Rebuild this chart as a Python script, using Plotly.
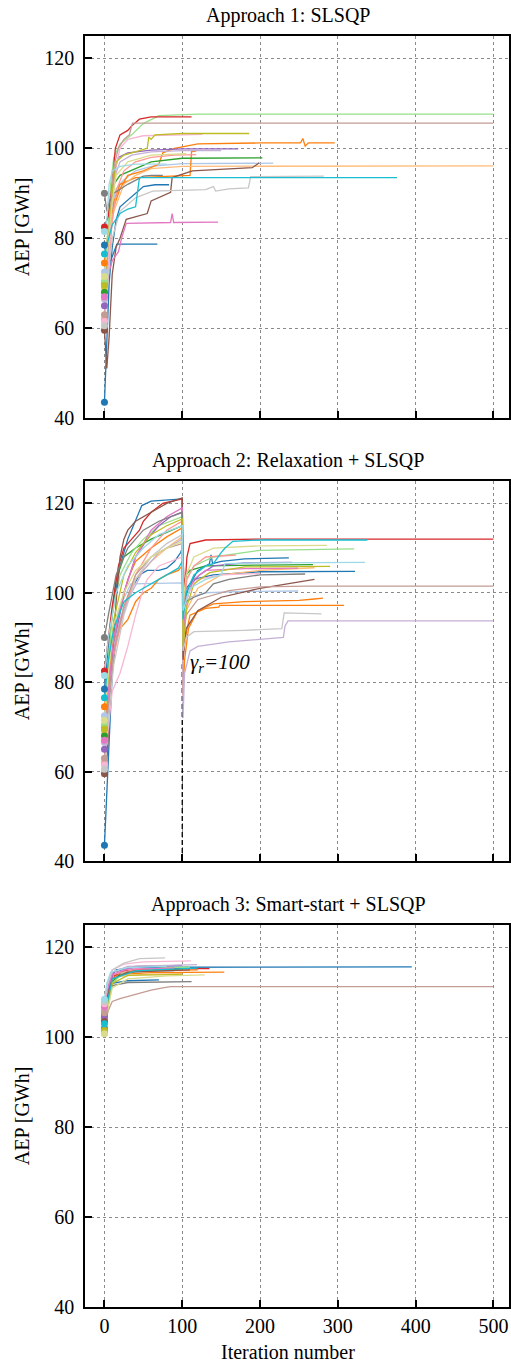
import plotly.graph_objects as go

# ---------------- data ----------------
RUN_NAMES = ["blue", "blue2", "lightblue", "orange", "orange2", "lightorange", "green", "lightgreen",
             "red", "lightred", "purple", "lightpurple", "brown", "lightbrown", "pink", "lightpink",
             "gray", "lightgray", "olive", "lightolive", "cyan", "lightcyan"]

X_TICKS = [0, 100, 200, 300, 400, 500]
Y_TICKS = [40, 60, 80, 100, 120]
TITLES = ["Approach 1: SLSQP", "Approach 2: Relaxation + SLSQP", "Approach 3: Smart-start + SLSQP"]
RELAX_ITER = 100

# Approach 1: SLSQP
A1_ITER = [
    [0, 3, 6, 10, 15, 20, 30, 40, 50, 65, 83],
    [0, 4, 8, 12, 16, 68],
    [0, 4, 8, 15, 25, 40, 60, 100, 217],
    [0, 5, 10, 20, 30, 50, 70, 75, 90, 120, 200, 252, 255, 258, 262, 296],
    [0, 5, 12, 20, 40, 110, 112, 118],
    [0, 5, 12, 25, 40, 60, 100, 500],
    [0, 4, 8, 12, 20, 40, 60, 100, 203],
    [0, 4, 8, 12, 20, 35, 50, 70, 120, 500],
    [0, 5, 10, 14, 20, 30, 35, 45, 60, 112],
    [0, 5, 10, 16, 25, 40, 60, 90, 118],
    [0, 4, 8, 13, 18, 30, 60, 100, 172],
    [0, 4, 9, 14, 20, 35, 60, 100, 150],
    [0, 3, 6, 10, 15, 20, 28, 55, 60, 85, 87, 113, 190, 199],
    [0, 4, 8, 12, 18, 25, 32, 36, 100, 500],
    [0, 5, 10, 18, 22, 28, 85, 87, 89, 146],
    [0, 5, 10, 15, 20, 30, 50, 126],
    [0, 3, 6, 12, 30, 50, 60, 75],
    [0, 5, 10, 20, 40, 62, 130, 140, 143, 160, 185, 188, 282],
    [0, 5, 10, 15, 25, 45, 55, 57, 60, 65, 100, 186],
    [0, 5, 10, 15, 30, 60, 105],
    [0, 5, 10, 20, 30, 40, 45, 100, 376],
    [0, 3, 6, 10, 20, 40, 80],
]
A1_AEP = [
    [43.5, 56, 70, 78, 84, 87, 88.5, 90, 91.5, 91.9, 91.9],
    [78.5, 74, 75, 77, 78.7, 78.7],
    [72.5, 80, 86, 91, 93, 95, 96, 96.6, 96.7],
    [74.5, 82, 86, 91, 94, 95, 96.5, 99, 100, 101, 101.2, 101.2, 102.2, 100.5, 101.2, 101.2],
    [70, 80, 88, 92, 93.5, 94, 99.3, 99.4],
    [69, 78, 86, 92, 94, 95.5, 96, 96.1],
    [68, 76, 85, 92, 94, 95.5, 97, 97.8, 97.9],
    [70.5, 82, 92, 98, 101, 103, 105.5, 107.3, 107.6, 107.6],
    [82.5, 85, 92, 100, 103, 104, 105, 106.5, 107, 107],
    [62, 72, 84, 91, 95, 97, 98, 98.5, 98.6],
    [65, 74, 86, 95, 98, 99, 99.6, 99.9, 99.9],
    [66.5, 76, 88, 94, 97, 98.5, 99.2, 99.5, 99.5],
    [59.5, 51, 58, 72, 78, 80, 84.2, 85.5, 88.3, 90.2, 93.5, 95, 95.7, 96.8],
    [63, 75, 88, 96, 100, 102, 103, 105.6, 105.6, 105.6],
    [67, 72, 75, 77, 80, 83.3, 83.5, 85.5, 83.5, 83.6],
    [61.5, 74, 88, 96, 100, 102, 102.8, 103.1],
    [90, 86, 88, 90, 92, 93.8, 94, 94],
    [60.5, 72, 80, 86, 89, 90.5, 90.8, 91.5, 90.5, 91, 91.2, 93.7, 93.8],
    [69.5, 80, 90, 97, 98.5, 99.5, 100, 102.5, 102, 103, 103.3, 103.3],
    [71.5, 80, 88, 94, 97, 98.5, 98.8],
    [76.5, 80, 83, 85.5, 86.5, 87, 93.5, 93.5, 93.5],
    [81.5, 84, 92, 95, 96, 96.5, 96.5],
]

# Approach 2: Relaxation + SLSQP
A2_ITER = [
    [0, 3, 6, 10, 15, 25, 35, 45, 55, 70, 80, 90, 98, 100, 101, 104, 110, 120, 135, 137, 139, 150, 180, 237],
    [0, 5, 12, 20, 30, 40, 48, 60, 80, 100, 101, 105, 115, 140, 200, 322],
    [0, 5, 10, 20, 34, 100, 101, 110, 130, 180, 249],
    [0, 5, 12, 20, 30, 40, 50, 60, 70, 80, 95, 100, 101, 104, 110, 130, 147, 148, 200, 308],
    [0, 5, 10, 20, 30, 40, 60, 80, 100, 101, 103, 108, 120, 140, 180, 250, 270, 281],
    [0, 5, 12, 25, 40, 60, 80, 100, 101, 105, 120, 150, 200, 270],
    [0, 4, 8, 15, 25, 40, 60, 80, 100, 101, 105, 110, 130, 200, 268],
    [0, 5, 10, 20, 35, 50, 70, 100, 101, 105, 115, 140, 200, 321],
    [0, 5, 10, 18, 25, 35, 45, 50, 60, 75, 100, 101, 103, 106, 110, 130, 200, 500],
    [0, 5, 12, 25, 40, 60, 80, 100, 101, 106, 115, 130, 169],
    [0, 5, 12, 25, 40, 55, 70, 85, 100, 101, 105, 112, 122, 140, 180, 241],
    [0, 5, 12, 20, 35, 50, 70, 100, 101, 103, 110, 120, 160, 200, 230, 232, 236, 500],
    [0, 3, 6, 10, 15, 20, 25, 30, 40, 60, 80, 100, 101, 105, 120, 150, 200, 270],
    [0, 5, 12, 25, 40, 60, 80, 100, 101, 105, 120, 160, 200, 260, 500],
    [0, 5, 12, 25, 40, 60, 80, 100, 101, 106, 115, 130, 180, 249],
    [0, 5, 10, 20, 30, 40, 50, 55, 70, 100, 101, 108, 120, 150, 200],
    [0, 5, 15, 30, 50, 70, 100, 101, 105, 115, 130, 140, 160, 200, 258],
    [0, 5, 12, 25, 40, 60, 80, 100, 101, 105, 115, 180, 228, 231, 279],
    [0, 5, 12, 25, 40, 60, 80, 100, 101, 106, 115, 135, 180, 290],
    [0, 5, 12, 25, 40, 60, 80, 100, 101, 105, 115, 140, 200, 286],
    [0, 5, 12, 25, 40, 60, 80, 95, 100, 101, 105, 115, 130, 140, 150, 155, 165, 200, 338],
    [0, 5, 15, 30, 50, 70, 100, 101, 110, 130, 150, 155, 200, 335],
]
A2_AEP = [
    [43.5, 55, 70, 82, 90, 96, 101, 104, 105, 105, 105.5, 107, 109, 110, 90, 99, 102, 105, 106.5, 108.5, 106.5, 107, 107.6, 107.8],
    [78.5, 88, 98, 106, 112, 116, 119.5, 120.5, 120.8, 121, 96, 101, 103, 104, 104.7, 104.8],
    [72.5, 82, 90, 97, 102, 102.2, 97, 99, 100, 100.3, 100.4],
    [74.5, 82, 88, 92, 94, 98, 100, 101, 103, 104, 105, 106, 86, 90, 95, 96.5, 96.8, 97.2, 97.2, 97.2],
    [70, 80, 88, 96, 103, 107, 110, 112.5, 114.5, 77, 85, 92, 96, 97.5, 98, 98.3, 98.6, 98.8],
    [69, 78, 88, 97, 103, 107, 110, 112.5, 88, 96, 101, 104, 105, 105.6],
    [68, 80, 92, 103, 108, 110, 112, 113.5, 115, 100, 104, 105, 106, 106.2, 106.3],
    [70.5, 85, 95, 104, 109, 112, 115, 117, 95, 103, 106, 108, 109.5, 109.8],
    [82.5, 90, 97, 106, 110, 112, 114, 116, 118, 120, 121, 108, 100, 108, 111, 111.8, 112, 112],
    [62, 75, 86, 96, 104, 110, 114, 116, 95, 103, 106, 108, 108.4],
    [65, 75, 88, 100, 108, 112, 115, 117, 118, 92, 98, 102, 104, 106, 106.7, 106.8],
    [66.5, 78, 88, 94, 100, 105, 109, 112, 72, 82, 87, 88, 89, 89.5, 90, 92.5, 93.7, 93.7],
    [59.5, 62, 72, 85, 98, 108, 112, 114, 116, 118, 120, 121.2, 85, 92, 96, 99, 101, 103],
    [63, 75, 87, 97, 104, 108, 110, 111, 90, 95, 98.5, 100.5, 101.3, 101.5, 101.5],
    [67, 78, 90, 100, 108, 114, 117, 119, 90, 99, 103, 105, 105.4, 105.5],
    [61.5, 70, 78, 82, 88, 95, 101, 103, 106, 108, 94, 100, 103, 104, 104.3],
    [90, 95, 104, 110, 114, 116, 118, 96, 98, 99, 100, 102, 103, 104, 104.2],
    [60.5, 72, 84, 95, 103, 108, 111, 113, 87, 90, 91.3, 91.6, 92, 95.5, 95.3],
    [69.5, 82, 94, 104, 109, 113, 115, 116.5, 88, 97, 102, 104.5, 105.8, 105.9],
    [71.5, 82, 93, 100, 105, 108, 110, 111.5, 98, 104, 108, 110, 110.5, 110.6],
    [76.5, 85, 92, 98, 100, 102, 104, 105.5, 107, 94, 100, 104, 106, 106.5, 109, 110, 111.5, 111.8, 111.8],
    [81.5, 90, 100, 106, 110, 113, 115, 96, 101, 103, 104, 106.5, 106.7, 106.8],
]

# Approach 3: Smart-start + SLSQP
A3_ITER = [
    [0, 3, 8, 15, 40, 395],
    [0, 4, 10, 30, 70],
    [0, 4, 10, 30, 90],
    [0, 3, 8, 20, 60, 154],
    [0, 5, 12, 40, 120],
    [0, 5, 15, 50, 100],
    [0, 4, 8, 20, 50, 100],
    [0, 4, 10, 25, 80, 110],
    [0, 4, 10, 25, 60, 135],
    [0, 5, 12, 40, 90],
    [0, 5, 12, 40, 100],
    [0, 4, 10, 30, 119],
    [0, 4, 10, 30, 110],
    [0, 2, 5, 10, 20, 40, 60, 75, 85, 500],
    [0, 4, 10, 30, 90],
    [0, 4, 10, 25, 50, 111],
    [0, 4, 10, 30, 112],
    [0, 4, 10, 25, 45, 78],
    [0, 4, 10, 30, 100],
    [0, 4, 10, 30, 80, 129],
    [0, 4, 10, 40, 100, 120],
    [0, 3, 8, 30, 80],
]
A3_AEP = [
    [106, 110, 113.5, 115, 115.6, 115.7],
    [104, 109, 112, 112.6, 112.8],
    [104.5, 110, 113.5, 114.5, 114.8],
    [107, 110, 113, 114, 114.4, 114.5],
    [105, 110, 113.5, 114.8, 115],
    [106.5, 111, 113.5, 114, 114.2],
    [101, 107, 112, 114, 115, 115.2],
    [100.9, 106, 112, 114.5, 115.5, 115.6],
    [105.5, 110, 113.5, 114.8, 115.3, 115.3],
    [104, 110, 114, 115.2, 115.4],
    [104.5, 111, 114.5, 115.8, 116],
    [105.8, 111, 114.5, 115.8, 116.2],
    [103.5, 109, 113, 114.5, 115],
    [105.5, 104, 106, 108, 108.6, 109.5, 110.5, 111, 111.3, 111.3],
    [106.8, 111, 114, 115.2, 115.4],
    [107.5, 112, 115, 116.3, 116.8, 117],
    [102, 108, 111.5, 112.2, 112.4],
    [108, 112, 115, 116.5, 117.5, 117.7],
    [101.5, 107, 112, 113.8, 114],
    [100.8, 106, 111, 113, 113.7, 113.9],
    [103, 108, 113, 114.8, 115.3, 115.4],
    [108.5, 112, 114.5, 115.5, 115.8],
]

# ---------------- styling ----------------
COLORS = {
    "blue": "#1f77b4", "blue2": "#1f77b4", "lightblue": "#aec7e8", "orange": "#ff7f0e",
    "orange2": "#ff7f0e", "lightorange": "#ffbb78", "green": "#2ca02c", "lightgreen": "#98df8a",
    "red": "#d62728", "lightred": "#ff9896", "purple": "#9467bd", "lightpurple": "#c5b0d5",
    "brown": "#8c564b", "lightbrown": "#c49c94", "pink": "#e377c2", "lightpink": "#f7b6d2",
    "gray": "#7f7f7f", "lightgray": "#c7c7c7", "olive": "#bcbd22", "lightolive": "#dbdb8d",
    "cyan": "#17becf", "lightcyan": "#9edae5",
}
FONT = "Liberation Serif"
FS = 20

W, H = 511, 1365
LEFT, TOP, BOTTOM = 85, 36, 58
plot_h = H - TOP - BOTTOM
panels_px = [(36, 418), (481, 861), (925, 1307)]


def dom(top_px, bot_px):
    return [(H - BOTTOM - bot_px) / plot_h, (H - BOTTOM - top_px) / plot_h]


fig = go.Figure()
approaches = [(A1_ITER, A1_AEP), (A2_ITER, A2_AEP), (A3_ITER, A3_AEP)]

for p, (iters, aeps) in enumerate(approaches):
    xa = "x" if p == 0 else f"x{p + 1}"
    ya = "y" if p == 0 else f"y{p + 1}"
    if p == 1:
        fig.add_trace(go.Scatter(x=[RELAX_ITER, RELAX_ITER], y=[40, 84], mode="lines",
                                 line=dict(color="black", width=1.3, dash="5px,3px"),
                                 xaxis=xa, yaxis=ya, showlegend=False, hoverinfo="skip"))
    for name, xs, ys in zip(RUN_NAMES, iters, aeps):
        c = COLORS[name]
        fig.add_trace(go.Scatter(x=xs, y=ys, mode="lines", line=dict(color=c, width=1.3),
                                 xaxis=xa, yaxis=ya, showlegend=False))
    for name, xs, ys in zip(RUN_NAMES, iters, aeps):
        c = COLORS[name]
        fig.add_trace(go.Scatter(x=[xs[0]], y=[ys[0]], mode="markers",
                                 marker=dict(color=c, size=7), cliponaxis=False,
                                 xaxis=xa, yaxis=ya, showlegend=False))

axis_common = dict(
    showline=True, linecolor="black", linewidth=1.6, mirror=True,
    ticks="inside", ticklen=7, tickwidth=1.5, tickcolor="black",
    showgrid=True, gridcolor="#8a8a8a", griddash="dot", gridwidth=0.8,
    zeroline=False, tickfont=dict(family=FONT, size=FS, color="black"),
)

layout = dict(width=W, height=H, margin=dict(l=LEFT, r=0, t=TOP, b=BOTTOM),
              paper_bgcolor="white", plot_bgcolor="white", showlegend=False,
              font=dict(family=FONT, size=FS, color="black"))
annotations = []
for p, (tp, bp) in enumerate(panels_px):
    suffix = "" if p == 0 else str(p + 1)
    d = dom(tp, bp)
    layout["xaxis" + suffix] = dict(axis_common, domain=[0, 1], range=[-25, 520],
                                    tickvals=X_TICKS, showticklabels=(p == 2),
                                    anchor="y" + suffix)
    layout["yaxis" + suffix] = dict(axis_common, domain=d, range=[40, 125],
                                    tickvals=Y_TICKS, anchor="x" + suffix, ticklabelstandoff=5)
    annotations.append(dict(text=TITLES[p], xref="paper", yref="paper", x=0.479, y=d[1],
                            yanchor="bottom", xanchor="center", yshift=7, showarrow=False,
                            font=dict(family=FONT, size=FS)))
    annotations.append(dict(text="AEP [GWh]", xref="paper", yref="paper", x=-0.148,
                            y=(d[0] + d[1]) / 2, xanchor="center", yanchor="middle",
                            textangle=-90, showarrow=False, font=dict(family=FONT, size=FS)))

annotations.append(dict(text="Iteration number", xref="paper", yref="paper", x=0.479, y=-0.0354,
                        xanchor="center", yanchor="middle", showarrow=False,
                        font=dict(family=FONT, size=FS)))
annotations.append(dict(text="<i>γ<sub>r</sub>=100</i>", xref="x2", yref="y2", x=107, y=84.3,
                        xanchor="left", yanchor="middle", showarrow=False,
                        font=dict(family=FONT, size=21)))
layout["annotations"] = annotations
fig.update_layout(**layout)

fig.write_html("out.html", config={"displayModeBar": False},
               post_script="document.body.style.margin='0';document.body.style.padding='0';"
                           "document.body.style.overflow='hidden';")
